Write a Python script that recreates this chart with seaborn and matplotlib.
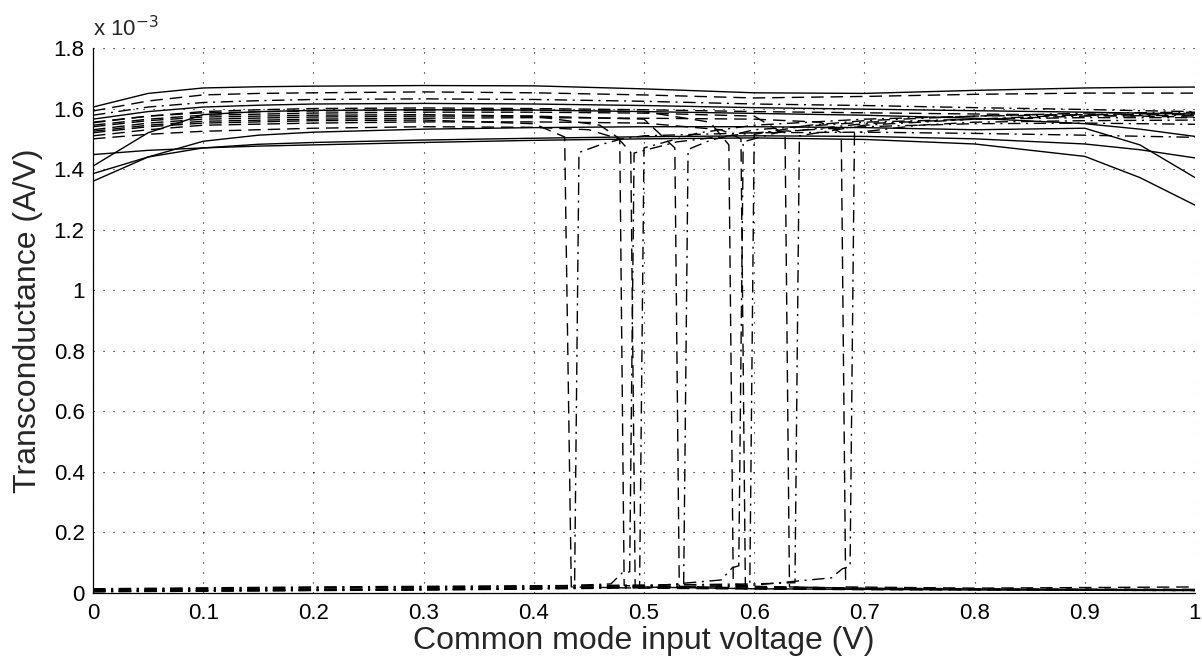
import numpy as np
import pandas as pd
import matplotlib
matplotlib.use("Agg")
import matplotlib.pyplot as plt
import seaborn as sns

# ---------------- data (transconductance in units of 1e-3 A/V) ----------------
X_GRID = [0.0, 0.05, 0.1, 0.15, 0.2, 0.3, 0.4, 0.5, 0.6, 0.7, 0.8, 0.9, 0.95, 1.0]

on1 = [1.605, 1.650, 1.668, 1.672, 1.674, 1.676, 1.675, 1.665, 1.652, 1.650, 1.660, 1.668, 1.670, 1.671]
on2 = [1.592, 1.625, 1.645, 1.650, 1.652, 1.655, 1.652, 1.645, 1.635, 1.640, 1.647, 1.651, 1.651, 1.651]
on3 = [1.578, 1.605, 1.620, 1.626, 1.630, 1.632, 1.630, 1.624, 1.615, 1.610, 1.603, 1.597, 1.593, 1.590]
on4 = [1.565, 1.590, 1.605, 1.611, 1.615, 1.617, 1.615, 1.610, 1.603, 1.598, 1.593, 1.588, 1.585, 1.582]
on5 = [1.553, 1.575, 1.590, 1.596, 1.600, 1.602, 1.600, 1.596, 1.590, 1.586, 1.582, 1.578, 1.575, 1.572]
on6 = [1.410, 1.520, 1.580, 1.590, 1.594, 1.596, 1.595, 1.590, 1.584, 1.578, 1.568, 1.550, 1.532, 1.508]
on7 = [1.360, 1.440, 1.492, 1.512, 1.522, 1.532, 1.537, 1.540, 1.540, 1.537, 1.530, 1.535, 1.480, 1.372]
on8 = [1.385, 1.440, 1.470, 1.482, 1.488, 1.496, 1.502, 1.507, 1.510, 1.508, 1.500, 1.483, 1.464, 1.437]
on9 = [1.448, 1.462, 1.470, 1.476, 1.480, 1.488, 1.495, 1.500, 1.503, 1.498, 1.483, 1.442, 1.372, 1.281]
on_styles = ["solid", "dashed", "dashdot", "solid", "dashed", "solid", "solid", "solid", "solid"]

# curves that switch off (high -> low)
A1_x = [0.0, 0.05, 0.1, 0.2, 0.3, 0.4, 0.428, 0.434, 0.5, 0.6, 0.7, 0.8, 0.9, 1.0]
A1_y = [1.520, 1.540, 1.552, 1.560, 1.562, 1.550, 1.506, 0.020, 0.016, 0.013, 0.011, 0.010, 0.009, 0.008]
A2_x = [0.0, 0.05, 0.1, 0.2, 0.3, 0.4, 0.46, 0.478, 0.482, 0.5, 0.6, 0.7, 0.8, 0.9, 1.0]
A2_y = [1.540, 1.560, 1.572, 1.578, 1.580, 1.575, 1.545, 1.500, 0.025, 0.020, 0.015, 0.012, 0.011, 0.010, 0.010]
A3_x = [0.0, 0.05, 0.1, 0.2, 0.3, 0.4, 0.45, 0.477, 0.488, 0.492, 0.6, 0.7, 0.8, 0.9, 1.0]
A3_y = [1.500, 1.515, 1.525, 1.535, 1.540, 1.538, 1.530, 1.500, 1.455, 0.020, 0.014, 0.012, 0.010, 0.009, 0.008]
A4_x = [0.0, 0.05, 0.1, 0.2, 0.3, 0.4, 0.5, 0.528, 0.532, 0.6, 0.7, 0.8, 0.9, 1.0]
A4_y = [1.530, 1.552, 1.565, 1.572, 1.575, 1.575, 1.565, 1.470, 0.022, 0.016, 0.013, 0.012, 0.011, 0.010]
A5_x = [0.0, 0.05, 0.1, 0.2, 0.3, 0.4, 0.5, 0.56, 0.577, 0.581, 0.6, 0.7, 0.8, 0.9, 1.0]
A5_y = [1.555, 1.575, 1.586, 1.592, 1.595, 1.595, 1.590, 1.555, 1.480, 0.030, 0.022, 0.016, 0.014, 0.013, 0.012]
A6_x = [0.0, 0.05, 0.1, 0.2, 0.3, 0.4, 0.5, 0.57, 0.588, 0.592, 0.7, 0.8, 0.9, 1.0]
A6_y = [1.510, 1.530, 1.545, 1.552, 1.556, 1.556, 1.552, 1.530, 1.500, 0.020, 0.014, 0.012, 0.011, 0.010]
A7_x = [0.0, 0.05, 0.1, 0.2, 0.3, 0.4, 0.5, 0.6, 0.628, 0.632, 0.7, 0.8, 0.9, 1.0]
A7_y = [1.545, 1.565, 1.578, 1.585, 1.588, 1.588, 1.585, 1.575, 1.515, 0.020, 0.015, 0.013, 0.012, 0.011]
A8_x = [0.0, 0.05, 0.1, 0.2, 0.3, 0.4, 0.5, 0.6, 0.66, 0.679, 0.683, 0.8, 0.9, 1.0]
A8_y = [1.525, 1.545, 1.558, 1.565, 1.568, 1.570, 1.568, 1.565, 1.555, 1.520, 0.020, 0.016, 0.018, 0.020]

# curves that switch on (low -> high)
B1_x = [0.0, 0.1, 0.2, 0.3, 0.4, 0.437, 0.441, 0.46, 0.48, 0.5, 0.6, 0.7, 0.8, 0.9, 1.0]
B1_y = [0.004, 0.006, 0.008, 0.010, 0.013, 0.020, 1.455, 1.480, 1.500, 1.510, 1.520, 1.522, 1.518, 1.512, 1.505]
B2_x = [0.0, 0.1, 0.2, 0.3, 0.4, 0.47, 0.48, 0.487, 0.491, 0.53, 0.6, 0.7, 0.8, 0.9, 1.0]
B2_y = [0.010, 0.013, 0.016, 0.018, 0.020, 0.030, 0.066, 0.070, 1.453, 1.490, 1.520, 1.540, 1.550, 1.552, 1.548]
B3_x = [0.0, 0.1, 0.2, 0.3, 0.4, 0.496, 0.500, 0.55, 0.6, 0.7, 0.8, 0.9, 1.0]
B3_y = [0.005, 0.007, 0.009, 0.011, 0.014, 0.022, 1.470, 1.520, 1.545, 1.565, 1.575, 1.580, 1.580]
B4_x = [0.0, 0.1, 0.2, 0.3, 0.4, 0.5, 0.536, 0.540, 0.56, 0.6, 0.7, 0.8, 0.9, 1.0]
B4_y = [0.012, 0.015, 0.018, 0.020, 0.022, 0.025, 0.028, 1.465, 1.495, 1.530, 1.555, 1.565, 1.570, 1.570]
B5_x = [0.0, 0.1, 0.2, 0.3, 0.4, 0.5, 0.57, 0.58, 0.586, 0.590, 0.62, 0.7, 0.8, 0.9, 1.0]
B5_y = [0.008, 0.010, 0.012, 0.014, 0.017, 0.021, 0.043, 0.083, 0.090, 1.490, 1.520, 1.550, 1.565, 1.575, 1.578]
B6_x = [0.0, 0.1, 0.2, 0.3, 0.4, 0.5, 0.596, 0.600, 0.65, 0.7, 0.8, 0.9, 1.0]
B6_y = [0.005, 0.007, 0.009, 0.011, 0.013, 0.017, 0.022, 1.515, 1.545, 1.560, 1.575, 1.585, 1.588]
B7_x = [0.0, 0.1, 0.2, 0.3, 0.4, 0.5, 0.6, 0.637, 0.641, 0.7, 0.8, 0.9, 1.0]
B7_y = [0.014, 0.017, 0.020, 0.022, 0.024, 0.026, 0.030, 0.034, 1.510, 1.545, 1.565, 1.580, 1.585]
B8_x = [0.0, 0.1, 0.2, 0.3, 0.4, 0.5, 0.6, 0.67, 0.68, 0.687, 0.691, 0.75, 0.8, 0.9, 1.0]
B8_y = [0.007, 0.009, 0.011, 0.013, 0.016, 0.020, 0.026, 0.050, 0.080, 0.088, 1.520, 1.545, 1.555, 1.560, 1.562]

X_TICKS = [0, 0.1, 0.2, 0.3, 0.4, 0.5, 0.6, 0.7, 0.8, 0.9, 1.0]
X_TICKLABELS = ["0", "0.1", "0.2", "0.3", "0.4", "0.5", "0.6", "0.7", "0.8", "0.9", "1"]
Y_TICKS = [0, 0.2, 0.4, 0.6, 0.8, 1.0, 1.2, 1.4, 1.6, 1.8]
Y_TICKLABELS = ["0", "0.2", "0.4", "0.6", "0.8", "1", "1.2", "1.4", "1.6", "1.8"]

# ---------------- build long table ----------------
rows = []
for i, (ys, st) in enumerate(zip([on1, on2, on3, on4, on5, on6, on7, on8, on9], on_styles)):
    for x, y in zip(X_GRID, ys):
        rows.append((f"on{i}", st, x, y))
A_list = [(A1_x, A1_y), (A2_x, A2_y), (A3_x, A3_y), (A4_x, A4_y),
          (A5_x, A5_y), (A6_x, A6_y), (A7_x, A7_y), (A8_x, A8_y)]
B_list = [(B1_x, B1_y), (B2_x, B2_y), (B3_x, B3_y), (B4_x, B4_y),
          (B5_x, B5_y), (B6_x, B6_y), (B7_x, B7_y), (B8_x, B8_y)]
for i, (xs, ys) in enumerate(A_list):
    for x, y in zip(xs, ys):
        rows.append((f"A{i}", "dashed", x, y))
for i, (xs, ys) in enumerate(B_list):
    for x, y in zip(xs, ys):
        rows.append((f"B{i}", "dashdot", x, y))
df = pd.DataFrame(rows, columns=["curve", "kind", "x", "y"])

# ---------------- plot ----------------
sns.set_style("white")
plt.rcParams["font.family"] = ["Liberation Sans", "DejaVu Sans"]
plt.rcParams["xtick.direction"] = "in"
plt.rcParams["ytick.direction"] = "in"

fig = plt.figure(figsize=(12.02, 6.65), dpi=100)
ax = fig.add_axes([93 / 1202, 1 - 593 / 665, (1195 - 93) / 1202, (593 - 48) / 665])

sns.lineplot(data=df, x="x", y="y", units="curve", estimator=None, sort=False,
             style="kind", dashes={"solid": "", "dashed": (9, 5), "dashdot": (9, 4, 1.5, 4)},
             color="black", linewidth=1.0, legend=False, ax=ax)

ax.set_xlim(0, 1)
ax.set_ylim(0, 1.8)
ax.set_xticks(X_TICKS)
ax.set_xticklabels(X_TICKLABELS)
ax.set_yticks(Y_TICKS)
ax.set_yticklabels(Y_TICKLABELS)
ax.tick_params(axis="both", labelsize=16, length=5, width=0.8, color="black",
               labelcolor="black", top=False, right=False)
ax.tick_params(axis="y", pad=6)
ax.tick_params(axis="x", pad=7)
ax.grid(True, color="black", linestyle=(0, (1, 8)), linewidth=0.8)
for side in ["top", "right"]:
    ax.spines[side].set_visible(False)
for side in ["left", "bottom"]:
    ax.spines[side].set_color("black")
    ax.spines[side].set_linewidth(0.9)

ax.set_xlabel("Common mode input voltage (V)", fontsize=23, labelpad=2)
ax.set_ylabel("Transconductance (A/V)", fontsize=23, labelpad=8)
ax.text(0.0, 1.012, r"x 10$^{-3}$", transform=ax.transAxes, fontsize=16,
        ha="left", va="bottom")

fig.savefig("out.png", dpi=100)
